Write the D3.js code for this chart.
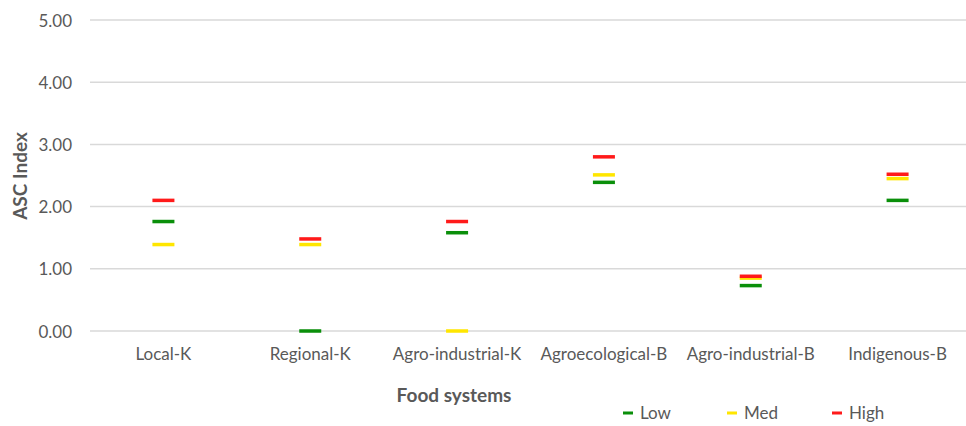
<!DOCTYPE html>
<html>
<head>
<meta charset="utf-8">
<script src="https://cdn.jsdelivr.net/npm/d3@7"></script>
<style>
  body { margin: 0; background: #fff; }
  text { font-family: Lato, "Open Sans", sans-serif; fill: #595959; }
  .grid line { stroke: #d9d9d9; stroke-width: 1.5; }
  .axis-title { font-weight: bold; font-size: 19px; }
</style>
</head>
<body>
<div id="chart"></div>
<script>
// data
var categories = ["Local-K", "Regional-K", "Agro-industrial-K", "Agroecological-B", "Agro-industrial-B", "Indigenous-B"];
var lowValues  = [1.76, 0.00, 1.58, 2.39, 0.73, 2.10];
var medValues  = [1.39, 1.39, 0.00, 2.51, 0.85, 2.45];
var highValues = [2.10, 1.48, 1.76, 2.80, 0.88, 2.52];
var seriesNames = ["Low", "Med", "High"];
var yTicks = [0, 1, 2, 3, 4, 5];

var colors = { Low: "#0a8f0a", Med: "#ffe600", High: "#ff1a1a" };

var svgWidth = 966;
var svgHeight = 426;

var svg = d3.select("#chart").append("svg")
  .attr("width", svgWidth)
  .attr("height", svgHeight);

var xScale = d3.scaleBand()
  .domain(categories)
  .range([90, 971]);

var yScale = d3.scaleLinear()
  .domain([0, 5])
  .range([331, 20]);

// gridlines
svg.append("g")
  .attr("class", "grid")
  .selectAll("line")
  .data(yTicks)
  .enter()
  .append("line")
  .attr("x1", 90)
  .attr("x2", 971)
  .attr("y1", d => yScale(d))
  .attr("y2", d => yScale(d));

// y axis labels
var leftAxis = d3.axisLeft(yScale)
  .tickValues(yTicks)
  .tickFormat(d3.format(".2f"))
  .tickSize(0)
  .tickPadding(0);

var yAxis = svg.append("g")
  .attr("transform", "translate(72,0)")
  .call(leftAxis);
yAxis.select(".domain").remove();
yAxis.selectAll("text")
  .attr("font-size", 17)
  .attr("dy", "0.36em")
  .style("font-family", null);

// x axis labels
var bottomAxis = d3.axisBottom(xScale).tickSize(0).tickPadding(0);
var xAxis = svg.append("g")
  .attr("transform", "translate(0,348)")
  .call(bottomAxis);
xAxis.select(".domain").remove();
xAxis.selectAll("text")
  .attr("font-size", 17)
  .attr("dy", "0.71em")
  .style("font-family", null);

// markers
var series = [
  { name: "Low", values: lowValues },
  { name: "Med", values: medValues },
  { name: "High", values: highValues }
];

var markW = 22;
var markH = 3.5;

series.forEach(function(s) {
  svg.append("g")
    .selectAll("rect")
    .data(s.values)
    .enter()
    .append("rect")
    .attr("x", (d, i) => xScale(categories[i]) + xScale.bandwidth() / 2 - markW / 2)
    .attr("y", d => yScale(d) - markH / 2)
    .attr("width", markW)
    .attr("height", markH)
    .attr("fill", colors[s.name]);
});

// axis titles
svg.append("text")
  .attr("class", "axis-title")
  .attr("transform", "translate(27,176) rotate(-90)")
  .attr("text-anchor", "middle")
  .text("ASC Index");

svg.append("text")
  .attr("class", "axis-title")
  .attr("x", 454)
  .attr("y", 402)
  .attr("text-anchor", "middle")
  .text("Food systems");

// legend
var legendX = [623, 727, 832];
var legend = svg.append("g")
  .selectAll("g")
  .data(seriesNames)
  .enter()
  .append("g")
  .attr("transform", (d, i) => `translate(${legendX[i]},413)`);

legend.append("rect")
  .attr("x", 0)
  .attr("y", -1.5)
  .attr("width", 10)
  .attr("height", 3)
  .attr("fill", d => colors[d]);

legend.append("text")
  .attr("x", 17)
  .attr("y", 6)
  .attr("font-size", 17)
  .text(d => d);
</script>
</body>
</html>
